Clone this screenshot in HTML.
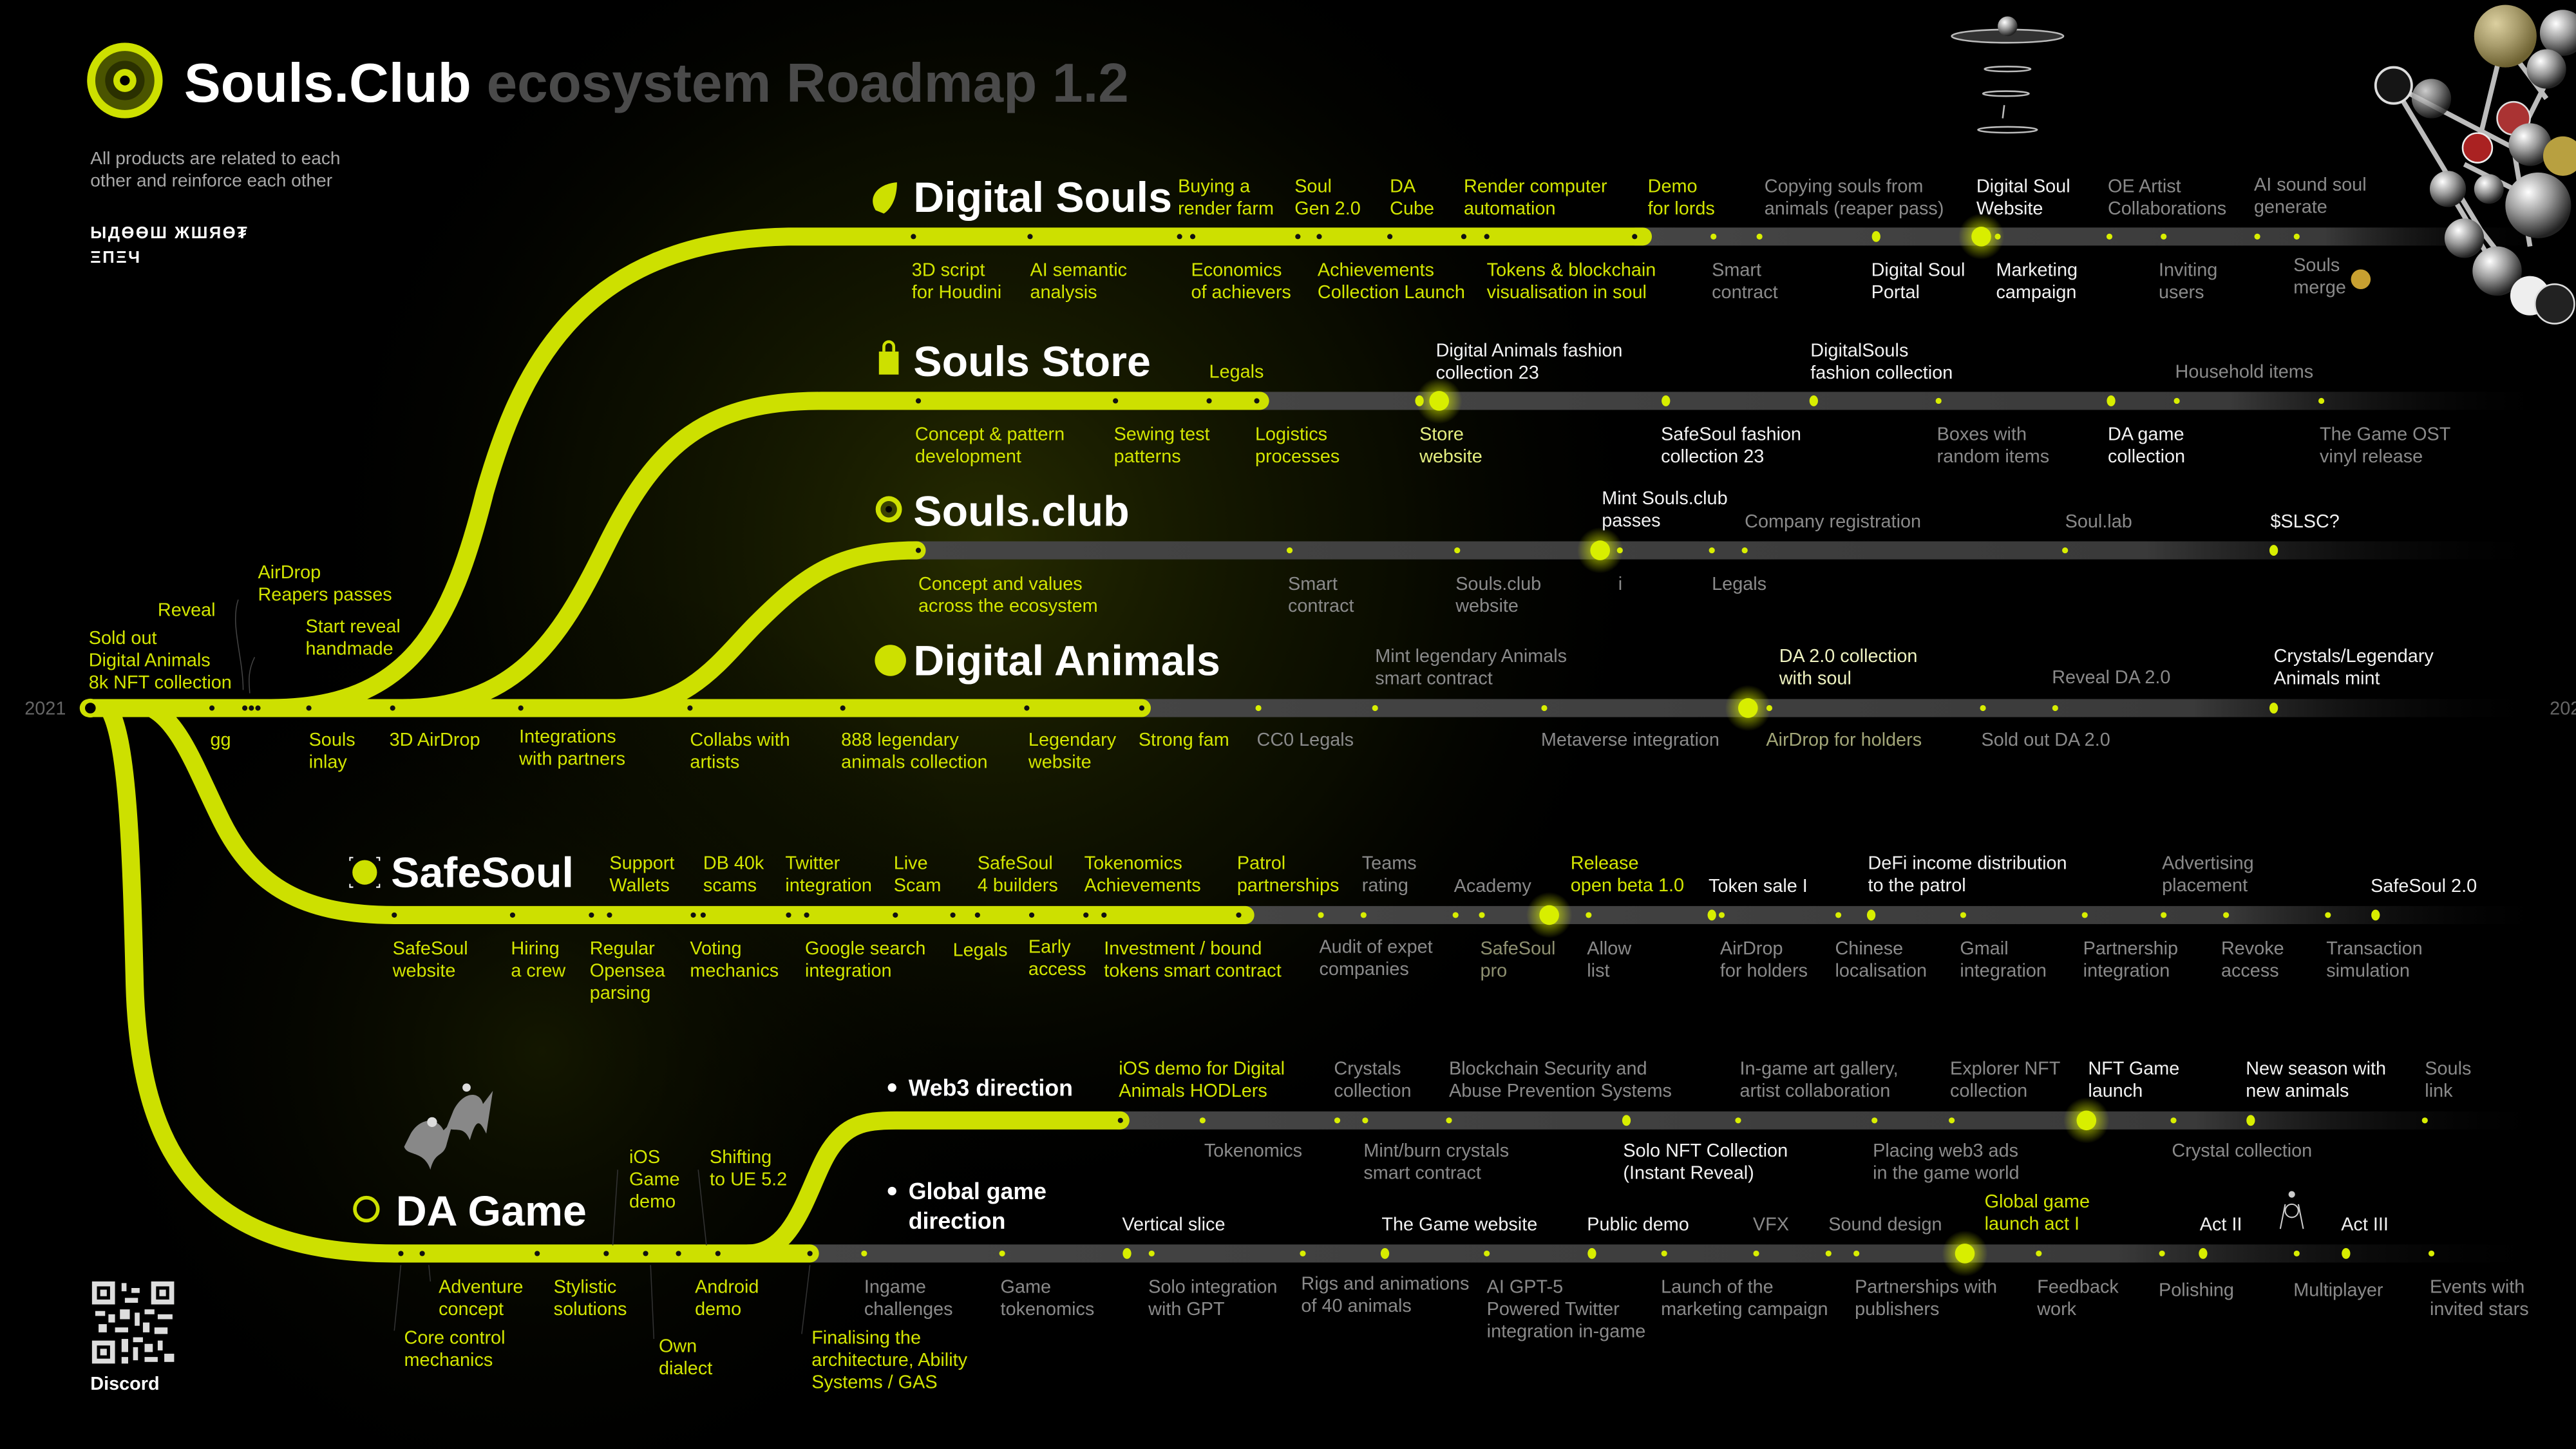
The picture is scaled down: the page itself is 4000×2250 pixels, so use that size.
<!DOCTYPE html>
<html><head><meta charset="utf-8">
<style>
html,body{margin:0;padding:0;background:#000;}
svg{display:block;}
text{font-family:"Liberation Sans",Arial,sans-serif;font-size:11.3px;}
.y{fill:#d2e500;}
.w{fill:#f2f2f2;}
.g{fill:#8a8a8a;}
.t{fill:#fff;font-weight:bold;font-size:26px;}
</style></head>
<body>
<svg width="4000" height="2250" viewBox="0 0 1568 882" preserveAspectRatio="none" xmlns="http://www.w3.org/2000/svg">
<defs>
<radialGradient id="bg" cx="600" cy="330" r="420" gradientUnits="userSpaceOnUse">
<stop offset="0" stop-color="#2a3000" stop-opacity="0.9"/><stop offset="0.6" stop-color="#141800" stop-opacity="0.5"/><stop offset="1" stop-color="#000" stop-opacity="0"/></radialGradient>
<radialGradient id="bg2" cx="330" cy="640" r="300" gradientUnits="userSpaceOnUse">
<stop offset="0" stop-color="#1c2100" stop-opacity="0.7"/><stop offset="1" stop-color="#000" stop-opacity="0"/></radialGradient>
<linearGradient id="gb" x1="0" x2="1" y1="0" y2="0"><stop offset="0" stop-color="#454545"/><stop offset="0.75" stop-color="#3a3a3a"/><stop offset="1" stop-color="#000" stop-opacity="0"/></linearGradient>
<radialGradient id="glow"><stop offset="0" stop-color="#e8ff00" stop-opacity="0.8"/><stop offset="1" stop-color="#e8ff00" stop-opacity="0"/></radialGradient>
<radialGradient id="chrome" cx="0.35" cy="0.3" r="0.7"><stop offset="0" stop-color="#fff"/><stop offset="0.5" stop-color="#9a9a9a"/><stop offset="1" stop-color="#222"/></radialGradient>
</defs>
<rect width="1568" height="882" fill="#000"/>
<rect width="1568" height="882" fill="url(#bg)"/>
<rect width="1568" height="882" fill="url(#bg2)"/>

<g stroke-width="11" stroke-linecap="round">
<rect x="995" y="138.5" width="560" height="11" fill="url(#gb)"/>
<rect x="765" y="238.5" width="790" height="11" fill="url(#gb)"/>
<rect x="556" y="329.5" width="1000" height="11" fill="url(#gb)"/>
<rect x="690" y="425.5" width="860" height="11" fill="url(#gb)"/>
<rect x="755" y="551.5" width="800" height="11" fill="url(#gb)"/>
<rect x="680" y="676.5" width="875" height="11" fill="url(#gb)"/>
<rect x="490" y="757.5" width="1065" height="11" fill="url(#gb)"/>
</g>

<g fill="none" stroke="#cde000" stroke-width="11" stroke-linecap="round">
<path d="M54 431 L695 431"/>
<path d="M165 431 C250 431 275 380 295 300 C315 230 350 146 480 144 L1000 144"/>
<path d="M245 431 C320 431 345 380 370 330 C400 270 430 244 500 244 L767 244"/>
<path d="M375 431 C420 431 440 400 460 380 C490 350 510 335 558 335"/>
<path d="M92 431 C110 440 120 470 135 500 C155 540 185 557 240 557 L758 557"/>
<path d="M66 431 C78 450 80 520 82 600 C85 700 120 763 240 763 L493 763"/>
<path d="M455 763 C485 763 492 720 505 700 C515 685 525 682 545 682 L682 682"/>
</g>
<circle cx="55" cy="431" r="4.5" fill="#000" stroke="#cde000" stroke-width="2.5"/>

<g fill="#111">
<circle cx="556" cy="144" r="1.6"/><circle cx="627" cy="144" r="1.6"/><circle cx="718" cy="144" r="1.6"/><circle cx="726" cy="144" r="1.6"/><circle cx="790" cy="144" r="1.6"/><circle cx="803" cy="144" r="1.6"/><circle cx="846" cy="144" r="1.6"/><circle cx="891" cy="144" r="1.6"/><circle cx="905" cy="144" r="1.6"/><circle cx="995" cy="144" r="1.6"/>
<circle cx="559" cy="244" r="1.6"/><circle cx="679" cy="244" r="1.6"/><circle cx="736" cy="244" r="1.6"/><circle cx="765" cy="244" r="1.6"/>
<circle cx="559" cy="335" r="1.6"/>
<circle cx="129" cy="431" r="1.6"/><circle cx="149" cy="431" r="1.6"/><circle cx="153" cy="431" r="1.6"/><circle cx="157" cy="431" r="1.6"/><circle cx="188" cy="431" r="1.6"/><circle cx="239" cy="431" r="1.6"/><circle cx="317" cy="431" r="1.6"/><circle cx="420" cy="431" r="1.6"/><circle cx="513" cy="431" r="1.6"/><circle cx="625" cy="431" r="1.6"/><circle cx="695" cy="431" r="1.6"/>
<circle cx="240" cy="557" r="1.6"/><circle cx="312" cy="557" r="1.6"/><circle cx="360" cy="557" r="1.6"/><circle cx="371" cy="557" r="1.6"/><circle cx="422" cy="557" r="1.6"/><circle cx="428" cy="557" r="1.6"/><circle cx="480" cy="557" r="1.6"/><circle cx="491" cy="557" r="1.6"/><circle cx="545" cy="557" r="1.6"/><circle cx="580" cy="557" r="1.6"/><circle cx="595" cy="557" r="1.6"/><circle cx="628" cy="557" r="1.6"/><circle cx="661" cy="557" r="1.6"/><circle cx="672" cy="557" r="1.6"/><circle cx="754" cy="557" r="1.6"/>
<circle cx="682" cy="682" r="1.6"/>
<circle cx="244" cy="763" r="1.6"/><circle cx="257" cy="763" r="1.6"/><circle cx="327" cy="763" r="1.6"/><circle cx="369" cy="763" r="1.6"/><circle cx="393" cy="763" r="1.6"/><circle cx="413" cy="763" r="1.6"/><circle cx="437" cy="763" r="1.6"/><circle cx="493" cy="763" r="1.6"/>
</g>

<g fill="url(#glow)">
<circle cx="1206" cy="144" r="14"/><circle cx="876" cy="244" r="14"/><circle cx="974" cy="335" r="14"/><circle cx="1064" cy="431" r="14"/><circle cx="943" cy="557" r="14"/><circle cx="1270" cy="682" r="14"/><circle cx="1196" cy="763" r="14"/>
</g>
<g fill="#d8ee00">
<circle cx="1043" cy="144" r="1.8"/><circle cx="1071" cy="144" r="1.8"/><ellipse cx="1142" cy="144" rx="2.6" ry="3.3"/><circle cx="1206" cy="144" r="6"/><circle cx="1216" cy="144" r="1.8"/><circle cx="1284" cy="144" r="1.8"/><circle cx="1317" cy="144" r="1.8"/><circle cx="1374" cy="144" r="1.8"/><circle cx="1398" cy="144" r="1.8"/>
<ellipse cx="864" cy="244" rx="2.6" ry="3.3"/><circle cx="876" cy="244" r="6"/><ellipse cx="1014" cy="244" rx="2.6" ry="3.3"/><ellipse cx="1104" cy="244" rx="2.6" ry="3.3"/><circle cx="1180" cy="244" r="1.8"/><ellipse cx="1285" cy="244" rx="2.6" ry="3.3"/><circle cx="1325" cy="244" r="1.8"/><circle cx="1413" cy="244" r="1.8"/>
<circle cx="785" cy="335" r="1.8"/><circle cx="887" cy="335" r="1.8"/><circle cx="974" cy="335" r="6"/><circle cx="986" cy="335" r="1.8"/><circle cx="1042" cy="335" r="1.8"/><circle cx="1062" cy="335" r="1.8"/><circle cx="1257" cy="335" r="1.8"/><ellipse cx="1384" cy="335" rx="2.6" ry="3.3"/>
<circle cx="766" cy="431" r="1.8"/><circle cx="837" cy="431" r="1.8"/><circle cx="940" cy="431" r="1.8"/><circle cx="1064" cy="431" r="6"/><circle cx="1077" cy="431" r="1.8"/><circle cx="1207" cy="431" r="1.8"/><circle cx="1251" cy="431" r="1.8"/><ellipse cx="1384" cy="431" rx="2.6" ry="3.3"/>
<circle cx="804" cy="557" r="1.8"/><circle cx="830" cy="557" r="1.8"/><circle cx="886" cy="557" r="1.8"/><circle cx="902" cy="557" r="1.8"/><circle cx="943" cy="557" r="6"/><circle cx="967" cy="557" r="1.8"/><ellipse cx="1042" cy="557" rx="2.6" ry="3.3"/><circle cx="1048" cy="557" r="1.8"/><circle cx="1119" cy="557" r="1.8"/><ellipse cx="1139" cy="557" rx="2.6" ry="3.3"/><circle cx="1195" cy="557" r="1.8"/><circle cx="1269" cy="557" r="1.8"/><circle cx="1317" cy="557" r="1.8"/><circle cx="1355" cy="557" r="1.8"/><circle cx="1417" cy="557" r="1.8"/><ellipse cx="1446" cy="557" rx="2.6" ry="3.3"/>
<circle cx="732" cy="682" r="1.8"/><circle cx="814" cy="682" r="1.8"/><circle cx="831" cy="682" r="1.8"/><circle cx="882" cy="682" r="1.8"/><ellipse cx="990" cy="682" rx="2.6" ry="3.3"/><circle cx="1058" cy="682" r="1.8"/><circle cx="1141" cy="682" r="1.8"/><circle cx="1188" cy="682" r="1.8"/><circle cx="1270" cy="682" r="6"/><circle cx="1323" cy="682" r="1.8"/><ellipse cx="1370" cy="682" rx="2.6" ry="3.3"/><circle cx="1476" cy="682" r="1.8"/>
<circle cx="526" cy="763" r="1.8"/><circle cx="610" cy="763" r="1.8"/><ellipse cx="686" cy="763" rx="2.6" ry="3.3"/><circle cx="701" cy="763" r="1.8"/><circle cx="793" cy="763" r="1.8"/><ellipse cx="843" cy="763" rx="2.6" ry="3.3"/><circle cx="905" cy="763" r="1.8"/><ellipse cx="969" cy="763" rx="2.6" ry="3.3"/><circle cx="1013" cy="763" r="1.8"/><circle cx="1069" cy="763" r="1.8"/><circle cx="1113" cy="763" r="1.8"/><circle cx="1130" cy="763" r="1.8"/><circle cx="1196" cy="763" r="6"/><circle cx="1241" cy="763" r="1.8"/><circle cx="1316" cy="763" r="1.8"/><ellipse cx="1341" cy="763" rx="2.6" ry="3.3"/><circle cx="1398" cy="763" r="1.8"/><ellipse cx="1428" cy="763" rx="2.6" ry="3.3"/><circle cx="1480" cy="763" r="1.8"/>
</g>

<circle cx="76" cy="49" r="23" fill="#cde000"/>
<circle cx="76" cy="49" r="18" fill="#4a5400"/>
<circle cx="76" cy="49" r="12" fill="#2a3000"/>
<circle cx="76" cy="49" r="7" fill="#cde000"/>
<circle cx="76" cy="49" r="3" fill="#000"/>
<text x="112" y="62" style="font-size:33.5px;font-weight:bold"><tspan fill="#fff">Souls.Club</tspan><tspan fill="#4a4a4a"> ecosystem Roadmap 1.2</tspan></text>
<text x="55" y="100" fill="#a8a8a8" style="font-size:11px">All products are related to each<tspan x="55" dy="13.5">other and reinforce each other</tspan></text>
<text x="55" y="145" fill="#fff" style="font-size:10px;font-weight:bold;letter-spacing:1px">ЫДӨӨШ ЖШЯӨ₮<tspan x="55" dy="15">ΞΠΞЧ</tspan></text>

<g stroke="#bbb" fill="none" stroke-width="1">
<ellipse cx="1222" cy="22" rx="34" ry="4" fill="#333"/>
<circle cx="1222" cy="16" r="6" fill="url(#chrome)" stroke="none"/>
<ellipse cx="1222" cy="42" rx="14" ry="1.5"/>
<ellipse cx="1221" cy="57" rx="14" ry="1.5"/>
<ellipse cx="1222" cy="79" rx="18" ry="1.8"/>
<path d="M1220 64 l-1 8"/>
</g>
<!-- sculpture -->
<g stroke="#d0d0d0" stroke-width="3" fill="none" opacity="0.9">
<path d="M1457 52 L1530 90 L1555 40 M1457 52 L1510 140 L1545 185 M1520 20 L1550 60 M1500 100 L1560 130 M1530 90 L1540 150 M1490 115 L1520 165 M1525 20 L1508 90"/>
</g>
<g>
<circle cx="1525" cy="22" r="19" fill="#b8a040"/><circle cx="1525" cy="22" r="19" fill="url(#chrome)" opacity="0.5"/>
<circle cx="1560" cy="20" r="14" fill="url(#chrome)"/>
<circle cx="1457" cy="52" r="11" fill="#151515" stroke="#ddd" stroke-width="1.5"/>
<circle cx="1550" cy="42" r="12" fill="url(#chrome)"/>
<circle cx="1530" cy="72" r="10" fill="#a33" stroke="#ddd"/>
<circle cx="1508" cy="90" r="9" fill="#a22" stroke="#eee"/>
<circle cx="1540" cy="88" r="13" fill="url(#chrome)"/>
<circle cx="1560" cy="95" r="12" fill="#b8a040"/>
<circle cx="1490" cy="115" r="11" fill="url(#chrome)"/>
<circle cx="1545" cy="125" r="20" fill="url(#chrome)"/>
<circle cx="1500" cy="145" r="12" fill="url(#chrome)"/>
<circle cx="1437" cy="170" r="6" fill="#c8a030"/>
<circle cx="1520" cy="165" r="15" fill="url(#chrome)"/>
<circle cx="1540" cy="180" r="12" fill="#eee"/>
<circle cx="1555" cy="185" r="12" fill="#222" stroke="#ddd"/>
<circle cx="1480" cy="60" r="12" fill="url(#chrome)" opacity="0.8"/>
<circle cx="1515" cy="115" r="9" fill="url(#chrome)"/>
</g>

<!-- Digital Souls -->
<path d="M533 128 C528 120 534 112 546 111 C546 118 544 126 538 130 Z" fill="#cde000"/>
<text x="556" y="129" class="t">Digital Souls</text>
<text x="717" y="117" class="y">Buying a<tspan x="717" dy="13.5">render farm</tspan></text>
<text x="788" y="117" class="y">Soul<tspan x="788" dy="13.5">Gen 2.0</tspan></text>
<text x="846" y="117" class="y">DA<tspan x="846" dy="13.5">Cube</tspan></text>
<text x="891" y="117" class="y">Render computer<tspan x="891" dy="13.5">automation</tspan></text>
<text x="1003" y="117" class="y">Demo<tspan x="1003" dy="13.5">for lords</tspan></text>
<text x="1074" y="117" class="g">Copying souls from<tspan x="1074" dy="13.5">animals (reaper pass)</tspan></text>
<text x="1203" y="117" class="w">Digital Soul<tspan x="1203" dy="13.5">Website</tspan></text>
<text x="1283" y="117" class="g">OE Artist<tspan x="1283" dy="13.5">Collaborations</tspan></text>
<text x="1372" y="116" class="g">AI sound soul<tspan x="1372" dy="13.5">generate</tspan></text>
<text x="555" y="168" class="y">3D script<tspan x="555" dy="13.5">for Houdini</tspan></text>
<text x="627" y="168" class="y">AI semantic<tspan x="627" dy="13.5">analysis</tspan></text>
<text x="725" y="168" class="y">Economics<tspan x="725" dy="13.5">of achievers</tspan></text>
<text x="802" y="168" class="y">Achievements<tspan x="802" dy="13.5">Collection Launch</tspan></text>
<text x="905" y="168" class="y">Tokens &amp; blockchain<tspan x="905" dy="13.5">visualisation in soul</tspan></text>
<text x="1042" y="168" class="g">Smart<tspan x="1042" dy="13.5">contract</tspan></text>
<text x="1139" y="168" class="w">Digital Soul<tspan x="1139" dy="13.5">Portal</tspan></text>
<text x="1215" y="168" class="w">Marketing<tspan x="1215" dy="13.5">campaign</tspan></text>
<text x="1314" y="168" class="g">Inviting<tspan x="1314" dy="13.5">users</tspan></text>
<text x="1396" y="165" class="g">Souls<tspan x="1396" dy="13.5">merge</tspan></text>

<!-- Souls Store -->
<path d="M535 214 h12 v14 h-12 Z" fill="#cde000"/><path d="M538 214 v-3 a3 3 0 0 1 6 0 v3" fill="none" stroke="#cde000" stroke-width="1.8"/>
<text x="556" y="229" class="t">Souls Store</text>
<text x="736" y="230" class="y">Legals</text>
<text x="874" y="217" class="w">Digital Animals fashion<tspan x="874" dy="13.5">collection 23</tspan></text>
<text x="1102" y="217" class="w">DigitalSouls<tspan x="1102" dy="13.5">fashion collection</tspan></text>
<text x="1324" y="230" class="g">Household items</text>
<text x="557" y="268" class="y">Concept &amp; pattern<tspan x="557" dy="13.5">development</tspan></text>
<text x="678" y="268" class="y">Sewing test<tspan x="678" dy="13.5">patterns</tspan></text>
<text x="764" y="268" class="y">Logistics<tspan x="764" dy="13.5">processes</tspan></text>
<text x="864" y="268" fill="#e4ee80">Store<tspan x="864" dy="13.5">website</tspan></text>
<text x="1011" y="268" class="w">SafeSoul fashion<tspan x="1011" dy="13.5">collection 23</tspan></text>
<text x="1179" y="268" class="g">Boxes with<tspan x="1179" dy="13.5">random items</tspan></text>
<text x="1283" y="268" class="w">DA game<tspan x="1283" dy="13.5">collection</tspan></text>
<text x="1412" y="268" class="g">The Game OST<tspan x="1412" dy="13.5">vinyl release</tspan></text>

<!-- Souls.club -->
<circle cx="541" cy="310" r="8" fill="#cde000"/><circle cx="541" cy="310" r="5" fill="#3a4200"/><circle cx="541" cy="310" r="2" fill="#000"/>
<text x="556" y="320" class="t">Souls.club</text>
<text x="975" y="307" class="w">Mint Souls.club<tspan x="975" dy="13.5">passes</tspan></text>
<text x="1062" y="321" class="g">Company registration</text>
<text x="1257" y="321" class="g">Soul.lab</text>
<text x="1382" y="321" class="w">$SLSC?</text>
<text x="559" y="359" class="y">Concept and values<tspan x="559" dy="13.5">across the ecosystem</tspan></text>
<text x="784" y="359" class="g">Smart<tspan x="784" dy="13.5">contract</tspan></text>
<text x="886" y="359" class="g">Souls.club<tspan x="886" dy="13.5">website</tspan></text>
<text x="985" y="359" class="g">i</text>
<text x="1042" y="359" class="g">Legals</text>

<!-- Digital Animals -->
<circle cx="542" cy="402" r="9.5" fill="#cde000"/>
<text x="556" y="411" class="t">Digital Animals</text>
<text x="837" y="403" class="g">Mint legendary Animals<tspan x="837" dy="13.5">smart contract</tspan></text>
<text x="1083" y="403" fill="#eef2c0">DA 2.0 collection<tspan x="1083" dy="13.5">with soul</tspan></text>
<text x="1249" y="416" class="g">Reveal DA 2.0</text>
<text x="1384" y="403" class="w">Crystals/Legendary<tspan x="1384" dy="13.5">Animals mint</tspan></text>
<text x="54" y="392" class="y">Sold out<tspan x="54" dy="13.5">Digital Animals</tspan><tspan x="54" dy="13.5">8k NFT collection</tspan></text>
<text x="96" y="375" class="y">Reveal</text>
<text x="157" y="352" class="y">AirDrop<tspan x="157" dy="13.5">Reapers passes</tspan></text>
<text x="186" y="385" class="y">Start reveal<tspan x="186" dy="13.5">handmade</tspan></text>
<g stroke="#444" stroke-width="0.6" fill="none"><path d="M145 365 C140 380 148 400 148 420"/><path d="M155 400 C150 410 152 418 152 422"/></g>
<text x="15" y="435" fill="#666">2021</text>
<text x="1552" y="435" fill="#666">202</text>
<text x="128" y="454" class="y">gg</text>
<text x="188" y="454" class="y">Souls<tspan x="188" dy="13.5">inlay</tspan></text>
<text x="237" y="454" class="y">3D AirDrop</text>
<text x="316" y="452" class="y">Integrations<tspan x="316" dy="13.5">with partners</tspan></text>
<text x="420" y="454" class="y">Collabs with<tspan x="420" dy="13.5">artists</tspan></text>
<text x="512" y="454" class="y">888 legendary<tspan x="512" dy="13.5">animals collection</tspan></text>
<text x="626" y="454" class="y">Legendary<tspan x="626" dy="13.5">website</tspan></text>
<text x="693" y="454" class="y">Strong fam</text>
<text x="765" y="454" class="g">CC0 Legals</text>
<text x="938" y="454" class="g">Metaverse integration</text>
<text x="1075" y="454" fill="#a2a678">AirDrop for holders</text>
<text x="1206" y="454" class="g">Sold out DA 2.0</text>

<!-- SafeSoul -->
<circle cx="222" cy="531" r="7.5" fill="#cde000"/>
<path d="M213 524 v-2 h2 M231 524 v-2 h-2 M213 538 v2 h2 M231 538 v2 h-2" stroke="#fff" stroke-width="0.8" fill="none"/>
<text x="238" y="540" class="t">SafeSoul</text>
<text x="371" y="529" class="y">Support<tspan x="371" dy="13.5">Wallets</tspan></text>
<text x="428" y="529" class="y">DB 40k<tspan x="428" dy="13.5">scams</tspan></text>
<text x="478" y="529" class="y">Twitter<tspan x="478" dy="13.5">integration</tspan></text>
<text x="544" y="529" class="y">Live<tspan x="544" dy="13.5">Scam</tspan></text>
<text x="595" y="529" class="y">SafeSoul<tspan x="595" dy="13.5">4 builders</tspan></text>
<text x="660" y="529" class="y">Tokenomics<tspan x="660" dy="13.5">Achievements</tspan></text>
<text x="753" y="529" class="y">Patrol<tspan x="753" dy="13.5">partnerships</tspan></text>
<text x="829" y="529" class="g">Teams<tspan x="829" dy="13.5">rating</tspan></text>
<text x="885" y="543" class="g">Academy</text>
<text x="956" y="529" class="y">Release<tspan x="956" dy="13.5">open beta 1.0</tspan></text>
<text x="1040" y="543" class="w">Token sale I</text>
<text x="1137" y="529" class="w">DeFi income distribution<tspan x="1137" dy="13.5">to the patrol</tspan></text>
<text x="1316" y="529" class="g">Advertising<tspan x="1316" dy="13.5">placement</tspan></text>
<text x="1443" y="543" class="w">SafeSoul 2.0</text>
<text x="239" y="581" class="y">SafeSoul<tspan x="239" dy="13.5">website</tspan></text>
<text x="311" y="581" class="y">Hiring<tspan x="311" dy="13.5">a crew</tspan></text>
<text x="359" y="581" class="y">Regular<tspan x="359" dy="13.5">Opensea</tspan><tspan x="359" dy="13.5">parsing</tspan></text>
<text x="420" y="581" class="y">Voting<tspan x="420" dy="13.5">mechanics</tspan></text>
<text x="490" y="581" class="y">Google search<tspan x="490" dy="13.5">integration</tspan></text>
<text x="580" y="582" class="y">Legals</text>
<text x="626" y="580" class="y">Early<tspan x="626" dy="13.5">access</tspan></text>
<text x="672" y="581" class="y">Investment / bound<tspan x="672" dy="13.5">tokens smart contract</tspan></text>
<text x="803" y="580" class="g">Audit of expet<tspan x="803" dy="13.5">companies</tspan></text>
<text x="901" y="581" fill="#8e9070">SafeSoul<tspan x="901" dy="13.5">pro</tspan></text>
<text x="966" y="581" class="g">Allow<tspan x="966" dy="13.5">list</tspan></text>
<text x="1047" y="581" class="g">AirDrop<tspan x="1047" dy="13.5">for holders</tspan></text>
<text x="1117" y="581" class="g">Chinese<tspan x="1117" dy="13.5">localisation</tspan></text>
<text x="1193" y="581" class="g">Gmail<tspan x="1193" dy="13.5">integration</tspan></text>
<text x="1268" y="581" class="g">Partnership<tspan x="1268" dy="13.5">integration</tspan></text>
<text x="1352" y="581" class="g">Revoke<tspan x="1352" dy="13.5">access</tspan></text>
<text x="1416" y="581" class="g">Transaction<tspan x="1416" dy="13.5">simulation</tspan></text>

<!-- DA Game -->
<circle cx="223" cy="736" r="7" fill="none" stroke="#cde000" stroke-width="2.2"/>
<text x="241" y="746" class="t">DA Game</text>
<g fill="#888">
<path d="M250 690 C256 680 266 680 270 688 L276 682 L272 696 C270 705 265 700 262 712 C258 700 248 704 246 698 Z"/>
<path d="M276 676 C282 664 292 664 294 672 L300 664 L296 690 C292 682 290 680 286 694 C282 684 276 690 272 686 Z"/>
<circle cx="263" cy="683" r="3" fill="#ddd"/><circle cx="284" cy="662" r="2.5" fill="#ddd"/>
</g>
<circle cx="543" cy="662" r="2.6" fill="#fff"/>
<text x="553" y="667" fill="#fff" style="font-size:14px;font-weight:bold">Web3 direction</text>
<circle cx="543" cy="725" r="2.6" fill="#fff"/>
<text x="553" y="730" fill="#fff" style="font-size:14px;font-weight:bold">Global game<tspan x="553" dy="18">direction</tspan></text>
<text x="681" y="654" class="y">iOS demo for Digital<tspan x="681" dy="13.5">Animals HODLers</tspan></text>
<text x="812" y="654" class="g">Crystals<tspan x="812" dy="13.5">collection</tspan></text>
<text x="882" y="654" class="g">Blockchain Security and<tspan x="882" dy="13.5">Abuse Prevention Systems</tspan></text>
<text x="1059" y="654" class="g">In-game art gallery,<tspan x="1059" dy="13.5">artist collaboration</tspan></text>
<text x="1187" y="654" class="g">Explorer NFT<tspan x="1187" dy="13.5">collection</tspan></text>
<text x="1271" y="654" class="w">NFT Game<tspan x="1271" dy="13.5">launch</tspan></text>
<text x="1367" y="654" class="w">New season with<tspan x="1367" dy="13.5">new animals</tspan></text>
<text x="1476" y="654" class="g">Souls<tspan x="1476" dy="13.5">link</tspan></text>
<text x="733" y="704" class="g">Tokenomics</text>
<text x="830" y="704" class="g">Mint/burn crystals<tspan x="830" dy="13.5">smart contract</tspan></text>
<text x="988" y="704" class="w">Solo NFT Collection<tspan x="988" dy="13.5">(Instant Reveal)</tspan></text>
<text x="1140" y="704" class="g">Placing web3 ads<tspan x="1140" dy="13.5">in the game world</tspan></text>
<text x="1322" y="704" class="g">Crystal collection</text>
<text x="383" y="708" class="y">iOS<tspan x="383" dy="13.5">Game</tspan><tspan x="383" dy="13.5">demo</tspan></text>
<text x="432" y="708" class="y">Shifting<tspan x="432" dy="13.5">to UE 5.2</tspan></text>
<text x="683" y="749" class="w">Vertical slice</text>
<text x="841" y="749" class="w">The Game website</text>
<text x="966" y="749" class="w">Public demo</text>
<text x="1067" y="749" class="g">VFX</text>
<text x="1113" y="749" class="g">Sound design</text>
<text x="1208" y="735" class="y">Global game<tspan x="1208" dy="13.5">launch act I</tspan></text>
<text x="1339" y="749" class="w">Act II</text>
<g stroke="#ccc" fill="none" stroke-width="0.8"><circle cx="1395" cy="737" r="4"/><path d="M1388 748 L1391 733 M1402 748 L1399 733"/><circle cx="1395" cy="727" r="1.6" fill="#ccc"/></g>
<text x="1425" y="749" class="w">Act III</text>
<text x="267" y="787" class="y">Adventure<tspan x="267" dy="13.5">concept</tspan></text>
<text x="337" y="787" class="y">Stylistic<tspan x="337" dy="13.5">solutions</tspan></text>
<text x="423" y="787" class="y">Android<tspan x="423" dy="13.5">demo</tspan></text>
<text x="246" y="818" class="y">Core control<tspan x="246" dy="13.5">mechanics</tspan></text>
<text x="401" y="823" class="y">Own<tspan x="401" dy="13.5">dialect</tspan></text>
<text x="494" y="818" class="y">Finalising the<tspan x="494" dy="13.5">architecture, Ability</tspan><tspan x="494" dy="13.5">Systems / GAS</tspan></text>
<text x="526" y="787" class="g">Ingame<tspan x="526" dy="13.5">challenges</tspan></text>
<text x="609" y="787" class="g">Game<tspan x="609" dy="13.5">tokenomics</tspan></text>
<text x="699" y="787" class="g">Solo integration<tspan x="699" dy="13.5">with GPT</tspan></text>
<text x="792" y="785" class="g">Rigs and animations<tspan x="792" dy="13.5">of 40 animals</tspan></text>
<text x="905" y="787" class="g">AI GPT-5<tspan x="905" dy="13.5">Powered Twitter</tspan><tspan x="905" dy="13.5">integration in-game</tspan></text>
<text x="1011" y="787" class="g">Launch of the<tspan x="1011" dy="13.5">marketing campaign</tspan></text>
<text x="1129" y="787" class="g">Partnerships with<tspan x="1129" dy="13.5">publishers</tspan></text>
<text x="1240" y="787" class="g">Feedback<tspan x="1240" dy="13.5">work</tspan></text>
<text x="1314" y="789" class="g">Polishing</text>
<text x="1396" y="789" class="g">Multiplayer</text>
<text x="1479" y="787" class="g">Events with<tspan x="1479" dy="13.5">invited stars</tspan></text>
<g stroke="#333" stroke-width="0.6" fill="none"><path d="M244 770 L240 810"/><path d="M261 770 L262 780"/><path d="M376 712 L373 758"/><path d="M425 712 L430 758"/><path d="M396 770 L398 815"/><path d="M493 770 L488 812"/></g>

<g fill="#ddd">
<rect x="56" y="780" width="50" height="50" fill="#000"/>
<rect x="56" y="780" width="14" height="14"/><rect x="59" y="783" width="8" height="8" fill="#000"/><rect x="61" y="785" width="4" height="4"/>
<rect x="92" y="780" width="14" height="14"/><rect x="95" y="783" width="8" height="8" fill="#000"/><rect x="97" y="785" width="4" height="4"/>
<rect x="56" y="816" width="14" height="14"/><rect x="59" y="819" width="8" height="8" fill="#000"/><rect x="61" y="821" width="4" height="4"/>
<rect x="74" y="781" width="3" height="5"/><rect x="80" y="784" width="5" height="3"/><rect x="76" y="790" width="8" height="3"/><rect x="58" y="798" width="6" height="3"/><rect x="66" y="800" width="4" height="5"/><rect x="73" y="797" width="6" height="6"/><rect x="82" y="799" width="3" height="8"/><rect x="88" y="797" width="6" height="3"/><rect x="96" y="800" width="9" height="3"/><rect x="60" y="806" width="5" height="5"/><rect x="70" y="808" width="8" height="3"/><rect x="87" y="805" width="4" height="6"/><rect x="94" y="808" width="8" height="4"/><rect x="74" y="815" width="4" height="8"/><rect x="81" y="814" width="6" height="3"/><rect x="81" y="820" width="3" height="8"/><rect x="88" y="818" width="5" height="5"/><rect x="96" y="816" width="3" height="6"/><rect x="100" y="824" width="6" height="5"/><rect x="88" y="826" width="8" height="3"/><rect x="74" y="826" width="4" height="4"/>
</g>
<text x="55" y="846" fill="#fff" style="font-size:11.3px;font-weight:bold">Discord</text>
</svg>
</body></html>
